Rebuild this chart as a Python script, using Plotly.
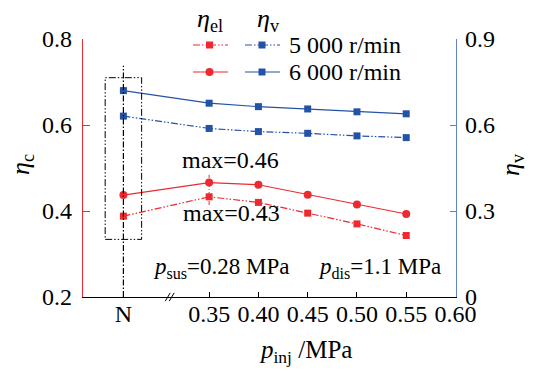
import plotly.graph_objects as go

# ---- data ----
x_pos = [0.263, 0.35, 0.40, 0.45, 0.50, 0.55]
eta_el_5000 = [0.388, 0.433, 0.420, 0.395, 0.370, 0.343]
eta_el_6000 = [0.437, 0.466, 0.461, 0.438, 0.415, 0.393]
eta_v_5000 = [0.631, 0.588, 0.577, 0.571, 0.562, 0.556]
eta_v_6000 = [0.720, 0.676, 0.664, 0.656, 0.646, 0.639]
x_tickvals = [0.263, 0.35, 0.40, 0.45, 0.50, 0.55, 0.60]
x_ticktext = ["N", "0.35", "0.40", "0.45", "0.50", "0.55", "0.60"]
y1_ticks = [0.2, 0.4, 0.6, 0.8]
y1_ticktext = ["0.2", "0.4", "0.6", "0.8"]
y2_ticks = [0, 0.3, 0.6, 0.9]
y2_ticktext = ["0", "0.3", "0.6", "0.9"]

RED = "#ec2a2f"
BLUE = "#2452a6"
BLUE_AX = "#5f85c8"
FONT = "Liberation Serif"
DASHDOT = "7px,2px,1.5px,2px,1.5px,2px"
TICKSIZE = 24

fig = go.Figure()
fig.add_trace(go.Scatter(x=x_pos, y=eta_el_5000, mode="lines+markers",
                         line=dict(color=RED, width=1.2, dash=DASHDOT),
                         marker=dict(symbol="square", size=7, color=RED)))
fig.add_trace(go.Scatter(x=x_pos, y=eta_el_6000, mode="lines+markers",
                         line=dict(color=RED, width=1.2),
                         marker=dict(symbol="circle", size=8, color=RED)))
fig.add_trace(go.Scatter(x=x_pos, y=eta_v_5000, mode="lines+markers", yaxis="y2",
                         line=dict(color=BLUE, width=1.2, dash=DASHDOT),
                         marker=dict(symbol="square", size=7, color=BLUE)))
fig.add_trace(go.Scatter(x=x_pos, y=eta_v_6000, mode="lines+markers", yaxis="y2",
                         line=dict(color=BLUE, width=1.2),
                         marker=dict(symbol="square", size=7, color=BLUE)))

shapes = []
N = x_pos[0]
shapes.append(dict(type="rect", xref="x", yref="y", x0=N - 0.0185, x1=N + 0.0185,
                   y0=0.334, y1=0.710, line=dict(color="black", width=1, dash=DASHDOT)))
shapes.append(dict(type="line", xref="x", yref="y", x0=N, x1=N, y0=0.2, y1=0.738,
                   line=dict(color="black", width=1.2, dash="6px,2px,1.5px,2px")))
shapes.append(dict(type="line", xref="x", yref="y", x0=0.35, x1=0.35, y0=0.414, y1=0.484,
                   line=dict(color=RED, width=1, dash="4px,2px,1px,2px")))
for dx in (0.0, 0.0040):
    shapes.append(dict(type="line", xref="x", yref="paper",
                       x0=0.3055 + dx, x1=0.3105 + dx, y0=-0.016, y1=0.016,
                       line=dict(color="black", width=1)))

def px(xp):
    return (xp - 83) / 373.0

def py(yp):
    return (297 - yp) / 258.0

legend_rows = [
    (45, DASHDOT, "square", "5 000 r/min"),
    (72, "solid", "circle", "6 000 r/min"),
]
annotations = []
for ypix, dash, rsym, label in legend_rows:
    for (xa, xb, xm, col, sym) in [(193, 228, 209.5, RED, rsym), (245, 280, 262, BLUE, "square")]:
        shapes.append(dict(type="line", xref="paper", yref="paper",
                           x0=px(xa), x1=px(xb), y0=py(ypix), y1=py(ypix),
                           line=dict(color=col, width=1.2, dash=dash)))
        s = 3.5 if sym == "square" else 4
        shapes.append(dict(type="rect" if sym == "square" else "circle",
                           xref="paper", yref="paper", xsizemode="pixel", ysizemode="pixel",
                           xanchor=px(xm), yanchor=py(ypix), x0=-s, x1=s, y0=-s, y1=s,
                           fillcolor=col, line=dict(color=col, width=0)))
    annotations.append(dict(xref="paper", yref="paper", x=px(287), y=py(ypix), text=label,
                            showarrow=False, xanchor="left", yanchor="middle",
                            font=dict(family=FONT, size=TICKSIZE, color="black")))

def ann(xp, yp, text, size=TICKSIZE, angle=0, xanchor="center"):
    annotations.append(dict(xref="paper", yref="paper", x=px(xp), y=py(yp), text=text,
                            showarrow=False, xanchor=xanchor, yanchor="middle", textangle=angle,
                            font=dict(family=FONT, size=size, color="black")))

ann(210, 20, "<i>η</i><sub>el</sub>", size=26)
ann(268, 20, "<i>η</i><sub>v</sub>", size=26)
ann(230, 160, "max=0.46")
ann(231, 213, "max=0.43")
ann(151, 268, "<i>p</i><sub>sus</sub>=0.28 MPa", xanchor="left", size=23)
ann(316, 268, "<i>p</i><sub>dis</sub>=1.1 MPa", xanchor="left", size=23)
ann(305, 351, "<i>p</i><sub>inj</sub> /MPa", size=25)
ann(22, 165, "<i>η</i><sub>c</sub>", size=26, angle=-90)
ann(512, 165, "<i>η</i><sub>v</sub>", size=26, angle=-90)

tf = dict(family=FONT, size=TICKSIZE, color="black")
fig.update_layout(
    width=536, height=371,
    margin=dict(l=83, r=80, t=39, b=74),
    paper_bgcolor="white", plot_bgcolor="white",
    showlegend=False,
    xaxis=dict(range=[0.222, 0.6005], tickvals=x_tickvals, ticktext=x_ticktext,
               showgrid=False, zeroline=False, showline=True, linecolor="black", linewidth=1.2,
               ticks="inside", ticklen=5, tickcolor="black", tickwidth=1,
               tickfont=tf, ticklabelstandoff=-5),
    yaxis=dict(range=[0.2, 0.8], tickvals=y1_ticks, ticktext=y1_ticktext,
               showgrid=False, zeroline=False, showline=True, linecolor=RED, linewidth=1.2,
               ticks="inside", ticklen=7, tickcolor=RED, tickwidth=1,
               tickfont=tf, ticklabelstandoff=5),
    yaxis2=dict(range=[0, 0.9], tickvals=y2_ticks, ticktext=y2_ticktext, overlaying="y",
                side="right", showgrid=False, zeroline=False, showline=True,
                linecolor=BLUE_AX, linewidth=1.2,
                ticks="inside", ticklen=6, tickcolor=BLUE_AX, tickwidth=1,
                tickfont=tf, ticklabelstandoff=3),
    shapes=shapes,
    annotations=annotations,
)

fig.write_html("out.html")
